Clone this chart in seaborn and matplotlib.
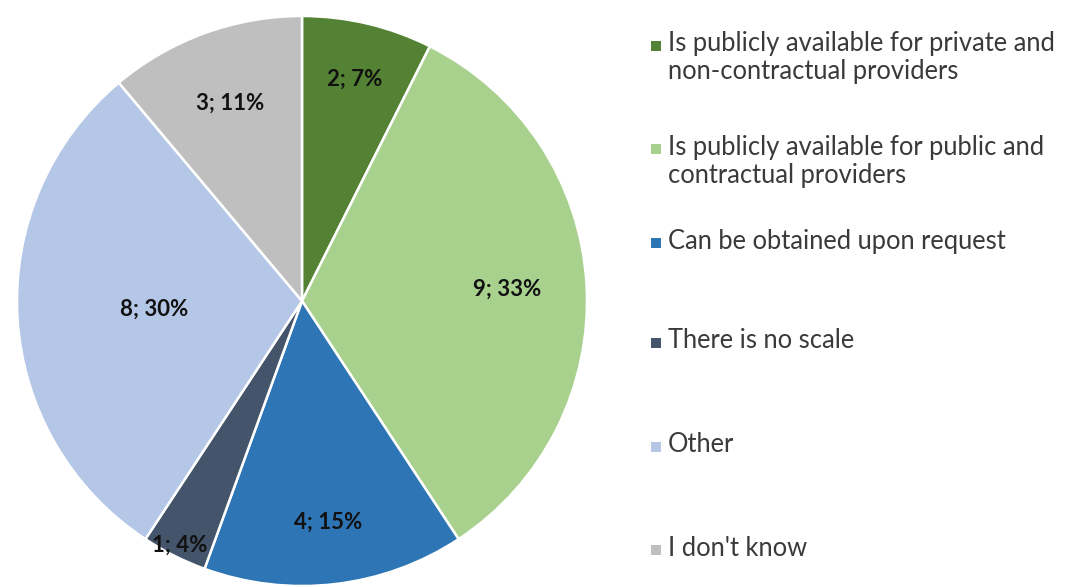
import matplotlib
matplotlib.use("Agg")
import matplotlib.pyplot as plt
import seaborn as sns
import numpy as np
from matplotlib.patches import Rectangle

categories = [
    "Is publicly available for private and\nnon-contractual providers",
    "Is publicly available for public and\ncontractual providers",
    "Can be obtained upon request",
    "There is no scale",
    "Other",
    "I don't know",
]
counts = [2, 9, 4, 1, 8, 3]
percents = [7, 33, 15, 4, 30, 11]
colors = ["#548235", "#a9d18e", "#2e75b6", "#44546a", "#b4c7e7", "#bfbfbf"]

# label placement (fraction of radius), mimicking Excel best-fit
label_r = [0.80, 0.72, 0.78, 0.96, 0.52, 0.74]

sns.set_theme(style="white")
plt.rcParams['font.family'] = ['Lato', 'DejaVu Sans']

W, H = 1072, 587
fig = plt.figure(figsize=(W / 100, H / 100), dpi=100)
fig.patch.set_facecolor("white")

cx, cy, R = 302, 301, 285
ax = fig.add_axes([(cx - R) / W, (H - cy - R) / H, 2 * R / W, 2 * R / H])
wedges, _ = ax.pie(counts, colors=colors, startangle=90, counterclock=False,
                   radius=1.0, wedgeprops=dict(edgecolor="white", linewidth=1.8))
ax.set_xlim(-1, 1)
ax.set_ylim(-1, 1)
ax.set_aspect("equal")
ax.axis("off")

total = sum(counts)
cum = 0
for i, (c, p) in enumerate(zip(counts, percents)):
    mid = 90 - (cum + c / 2) / total * 360
    cum += c
    r = label_r[i]
    x = r * np.cos(np.radians(mid))
    y = r * np.sin(np.radians(mid))
    ax.text(x, y, f"{c}; {p}%", ha="center", va="center",
            fontsize=16, fontweight="bold", color="#111111")

# legend (manual, Excel-like layout)
entry_y = [44, 147, 241, 341, 445, 548]
line_gap = 28
for lab, col, yy in zip(categories, colors, entry_y):
    fig.patches.append(Rectangle((651 / W, (H - yy - 7) / H), 10 / W, 10 / H,
                                 transform=fig.transFigure, facecolor=col,
                                 edgecolor="none"))
    for k, line in enumerate(lab.split("\n")):
        fig.text(668 / W, (H - yy - k * line_gap) / H, line, ha="left",
                 va="center", fontsize=18.4, color="#3a3a3a")

fig.savefig("out.png", dpi=100)
